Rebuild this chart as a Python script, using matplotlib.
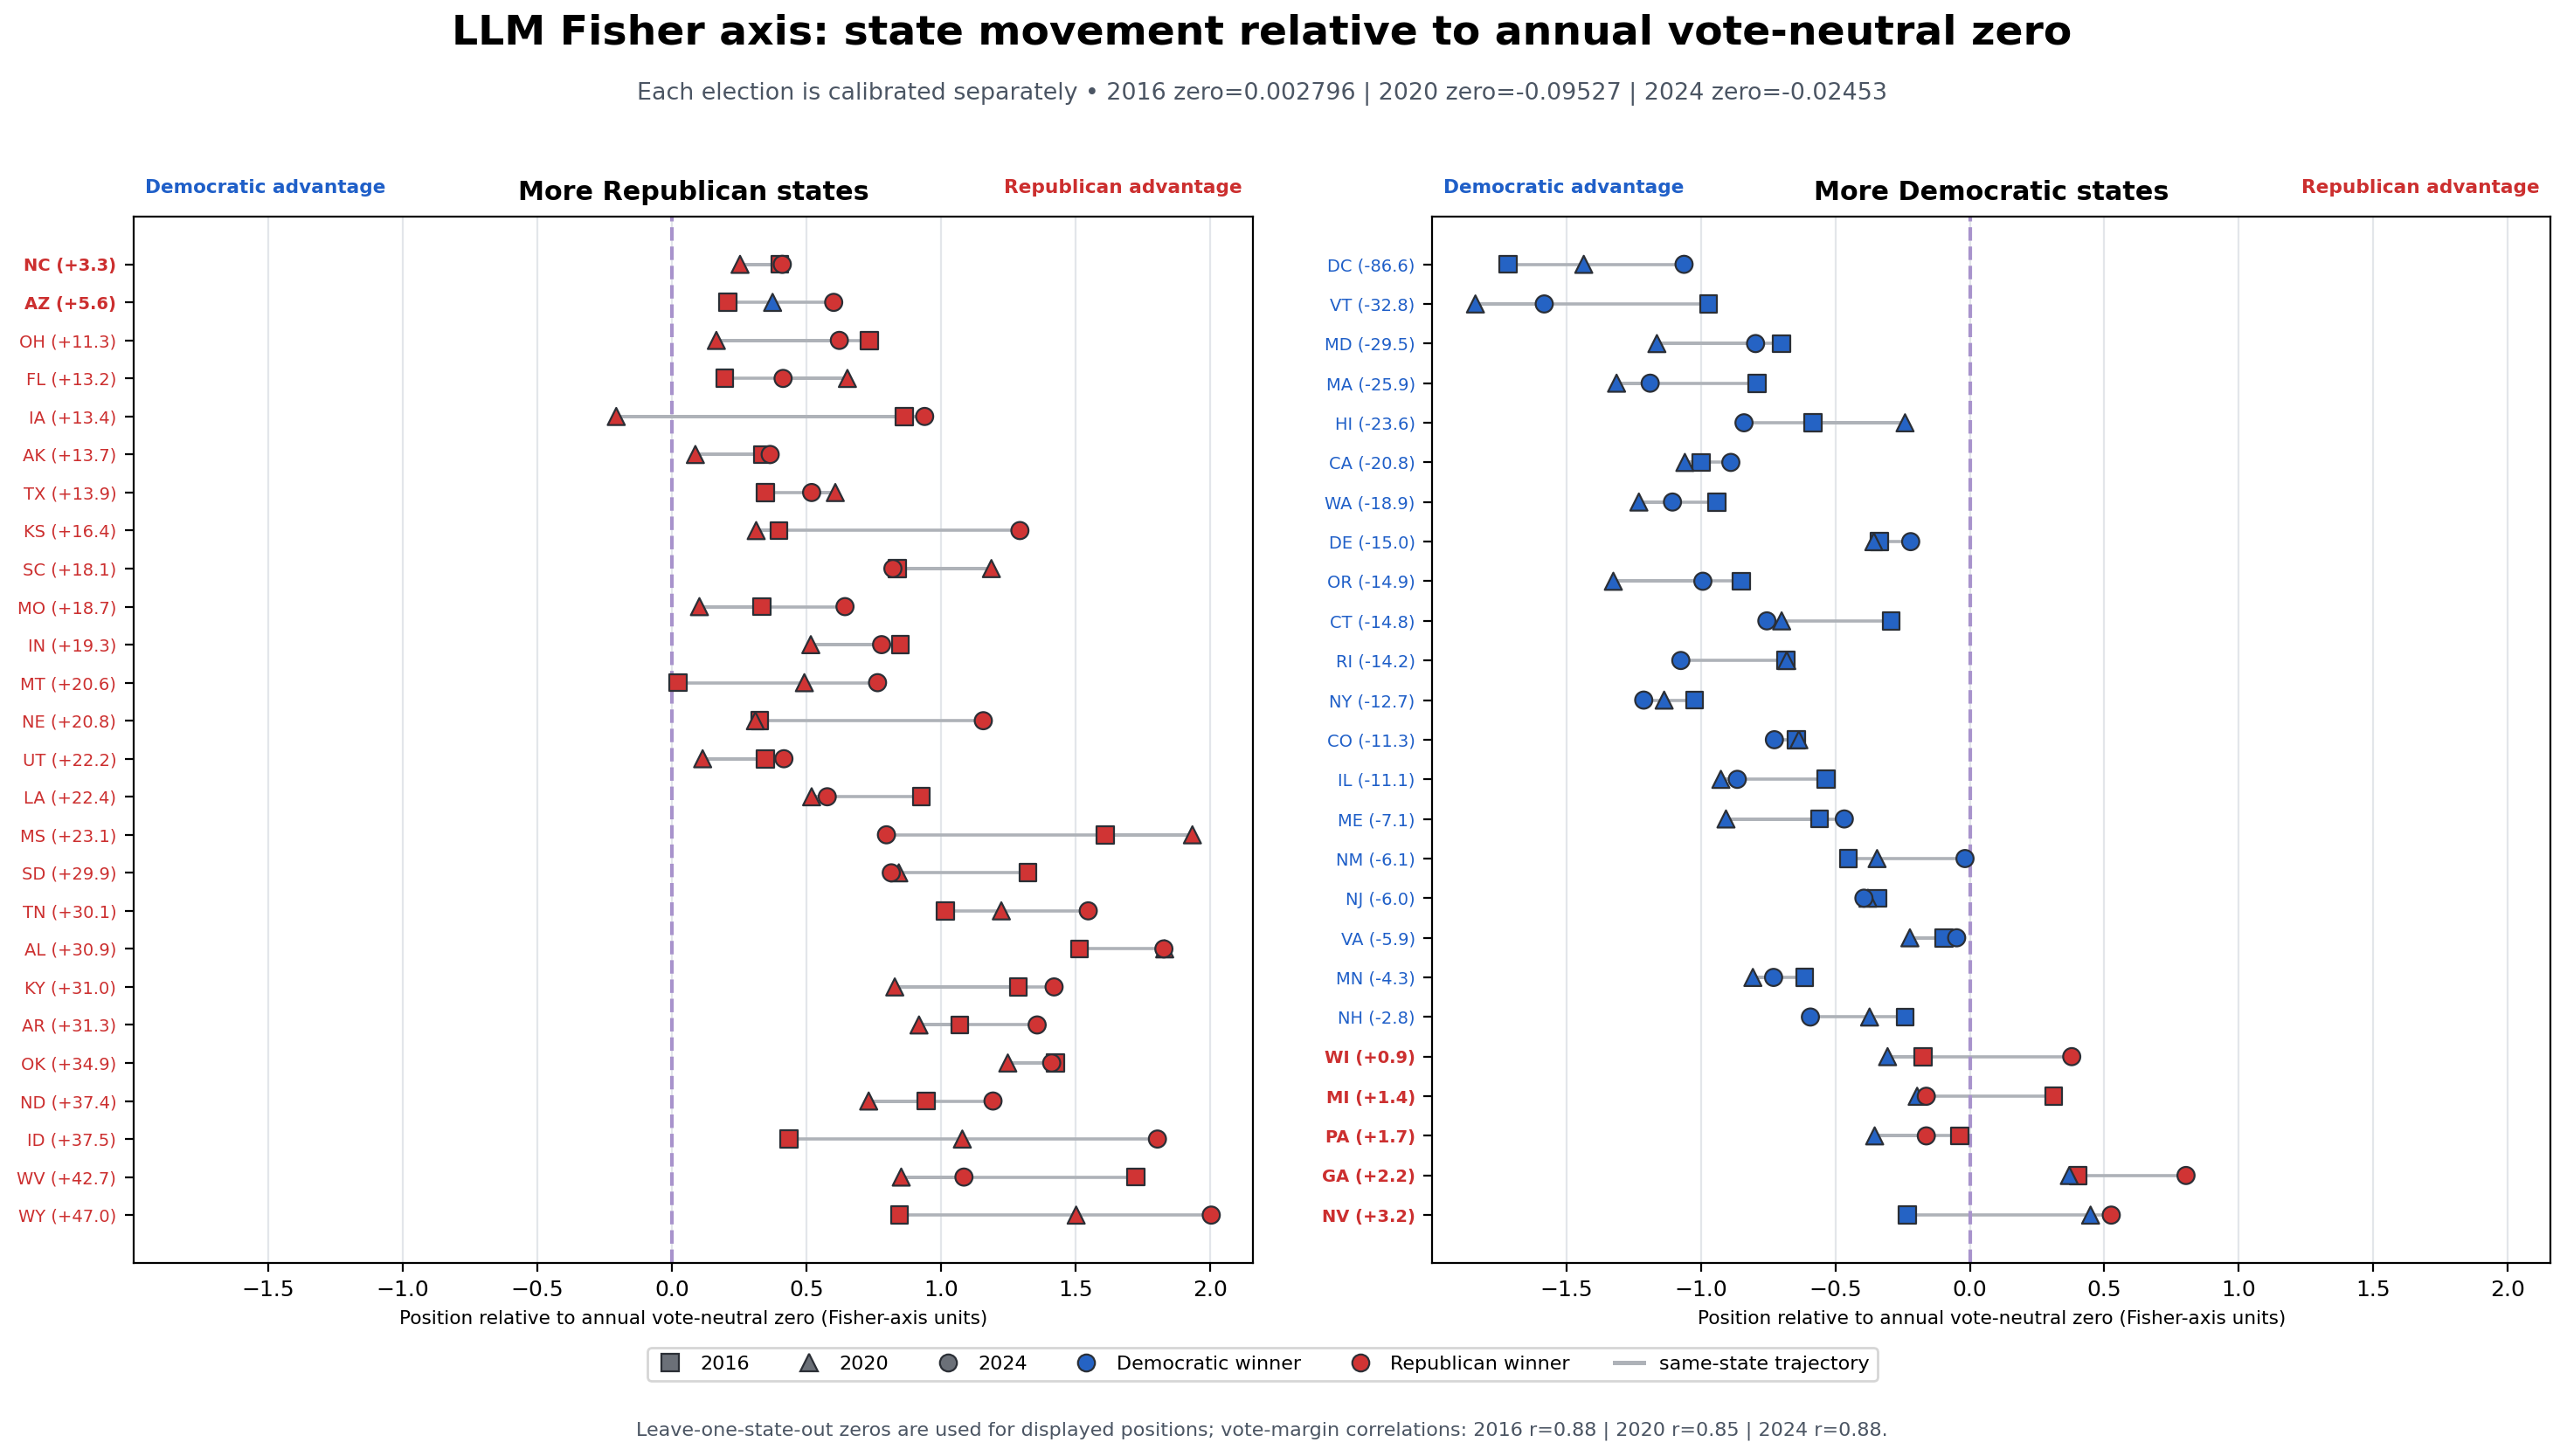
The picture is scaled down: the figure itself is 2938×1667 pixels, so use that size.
import numpy as np
import matplotlib
matplotlib.use('Agg')
import matplotlib.pyplot as plt
from matplotlib.lines import Line2D

# states sorted by 2024 margin (R minus D, points)
states = ['DC', 'VT', 'MD', 'MA', 'HI', 'CA', 'WA', 'DE', 'OR', 'CT', 'RI', 'NY', 'CO',
          'IL', 'ME', 'NM', 'NJ', 'VA', 'MN', 'NH', 'WI', 'MI', 'PA', 'GA', 'NV',
          'NC', 'AZ', 'OH', 'FL', 'IA', 'AK', 'TX', 'KS', 'SC', 'MO', 'IN', 'MT', 'NE',
          'UT', 'LA', 'MS', 'SD', 'TN', 'AL', 'KY', 'AR', 'OK', 'ND', 'ID', 'WV', 'WY']
margins = [-86.6, -32.8, -29.5, -25.9, -23.6, -20.8, -18.9, -15.0, -14.9, -14.8, -14.2,
           -12.7, -11.3, -11.1, -7.1, -6.1, -6.0, -5.9, -4.3, -2.8, 0.9, 1.4, 1.7, 2.2, 3.2,
           3.3, 5.6, 11.3, 13.2, 13.4, 13.7, 13.9, 16.4, 18.1, 18.7, 19.3, 20.6, 20.8,
           22.2, 22.4, 23.1, 29.9, 30.1, 30.9, 31.0, 31.3, 34.9, 37.4, 37.5, 42.7, 47.0]

pos_2016 = [-1.717, -0.972, -0.700, -0.791, -0.584, -0.999, -0.941, -0.336, -0.849, -0.293,
            -0.684, -1.024, -0.645, -0.535, -0.559, -0.452, -0.342, -0.095, -0.614, -0.241,
            -0.174, 0.312, -0.037, 0.403, -0.232,
            0.402, 0.209, 0.735, 0.197, 0.865, 0.339, 0.348, 0.399, 0.838, 0.336, 0.850,
            0.024, 0.327, 0.348, 0.928, 1.612, 1.324, 1.016, 1.515, 1.288, 1.070, 1.427,
            0.946, 0.435, 1.724, 0.847]
pos_2020 = [-1.436, -1.839, -1.164, -1.314, -0.241, -1.060, -1.231, -0.357, -1.326, -0.700,
            -0.681, -1.137, -0.636, -0.926, -0.907, -0.345, -0.379, -0.223, -0.807, -0.373,
            -0.306, -0.196, -0.354, 0.370, 0.449,
            0.254, 0.375, 0.166, 0.653, -0.206, 0.088, 0.608, 0.314, 1.188, 0.103, 0.517,
            0.493, 0.311, 0.115, 0.520, 1.935, 0.844, 1.225, 1.832, 0.829, 0.919, 1.249,
            0.732, 1.080, 0.853, 1.503]
pos_2024 = [-1.063, -1.583, -0.797, -1.189, -0.840, -0.889, -1.106, -0.220, -0.993, -0.755,
            -1.075, -1.213, -0.727, -0.865, -0.467, -0.018, -0.394, -0.049, -0.730, -0.593,
            0.379, -0.162, -0.162, 0.804, 0.526,
            0.411, 0.602, 0.623, 0.414, 0.940, 0.366, 0.520, 1.294, 0.822, 0.644, 0.780,
            0.765, 1.158, 0.417, 0.578, 0.798, 0.816, 1.548, 1.829, 1.421, 1.358, 1.412,
            1.194, 1.805, 1.086, 2.005]

# winners per election
win_2016 = ['D'] * 20 + ['R', 'R', 'R', 'R', 'D'] + ['R'] * 26
win_2020 = ['D'] * 25 + ['R', 'D'] + ['R'] * 24
win_2024 = ['D'] * 20 + ['R'] * 31

swing = ['AZ', 'GA', 'MI', 'NV', 'NC', 'PA', 'WI']
years = ['2016', '2020', '2024']
zeros = ['0.002796', '-0.09527', '-0.02453']
corrs = ['0.88', '0.85', '0.88']

BLUE = '#2563c4'
RED = '#d03434'
LBLUE = '#1f5fc8'
LRED = '#cc2f2f'
GRAY = '#6b7078'
EDGE = '#2b2f36'
LINE = '#aeb2b8'

fig = plt.figure(figsize=(14.69, 8.335), dpi=200)
ax_r = fig.add_axes([0.0520, 0.1328, 0.4361, 0.7183])
ax_d = fig.add_axes([0.5579, 0.1328, 0.4357, 0.7183])

n_dem = 25
panels = [(ax_r, list(range(n_dem, len(states))), 'More Republican states', 1.25),
          (ax_d, list(range(0, n_dem)), 'More Democratic states', 1.2)]
markers = ['s', '^', 'o']
pos_all = [pos_2016, pos_2020, pos_2024]
win_all = [win_2016, win_2020, win_2024]

for ax, idx, title, pad in panels:
    n = len(idx)
    for row, i in enumerate(idx):
        xs = [pos_2016[i], pos_2020[i], pos_2024[i]]
        ax.plot(xs, [row] * 3, color=LINE, lw=1.3, zorder=1, solid_capstyle='butt')
    for k in range(3):
        xs = [pos_all[k][i] for i in idx]
        cs = [BLUE if win_all[k][i] == 'D' else RED for i in idx]
        ax.scatter(xs, np.arange(n), marker=markers[k], s=50, c=cs,
                   edgecolors=EDGE, linewidths=0.8, zorder=3 + k)
    ax.axvline(0, color='#a893cc', lw=1.5, ls='--', zorder=2)
    ax.set_xlim(-2.0, 2.16)
    ax.set_xticks([-1.5, -1.0, -0.5, 0.0, 0.5, 1.0, 1.5, 2.0])
    ax.set_ylim(n - 1 + pad, -pad)
    ax.set_yticks(np.arange(n))
    labels = ['%s (%+.1f)' % (states[i], margins[i]) for i in idx]
    ax.set_yticklabels(labels)
    for lab, i in zip(ax.get_yticklabels(), idx):
        lab.set_color(LRED if margins[i] > 0 else LBLUE)
        if states[i] in swing:
            lab.set_fontweight('bold')
    ax.tick_params(axis='y', labelsize=7)
    ax.tick_params(axis='x', labelsize=9)
    ax.grid(axis='x', color='#e3e6ea', lw=0.8)
    ax.set_axisbelow(True)
    ax.set_title(title, fontsize=10.9, fontweight='bold', pad=7)
    ax.set_xlabel('Position relative to annual vote-neutral zero (Fisher-axis units)', fontsize=7.8)
    ax.text(0.01, 1.023, 'Democratic advantage', transform=ax.transAxes, color=LBLUE,
            fontsize=7.8, fontweight='bold', ha='left', va='baseline')
    ax.text(0.99, 1.023, 'Republican advantage', transform=ax.transAxes, color=LRED,
            fontsize=7.8, fontweight='bold', ha='right', va='baseline')

fig.text(0.4915, 0.977, 'LLM Fisher axis: state movement relative to annual vote-neutral zero',
         ha='center', va='center', fontsize=17, fontweight='bold')
sub = 'Each election is calibrated separately \u2022 ' + ' | '.join(
    '%s zero=%s' % (y, z) for y, z in zip(years, zeros))
fig.text(0.4915, 0.9355, sub, ha='center', va='center', fontsize=9.7, color='#4b5563')
foot = ('Leave-one-state-out zeros are used for displayed positions; vote-margin correlations: '
        + ' | '.join('%s r=%s' % (y, r) for y, r in zip(years, corrs)) + '.')
fig.text(0.4915, 0.0174, foot, ha='center', va='center', fontsize=8, color='#4b5563')

handles = [
    Line2D([], [], ls='none', marker='s', markersize=7, markerfacecolor=GRAY, markeredgecolor=EDGE, markeredgewidth=0.8, label='2016'),
    Line2D([], [], ls='none', marker='^', markersize=7, markerfacecolor=GRAY, markeredgecolor=EDGE, markeredgewidth=0.8, label='2020'),
    Line2D([], [], ls='none', marker='o', markersize=7, markerfacecolor=GRAY, markeredgecolor=EDGE, markeredgewidth=0.8, label='2024'),
    Line2D([], [], ls='none', marker='o', markersize=7, markerfacecolor=BLUE, markeredgecolor=EDGE, markeredgewidth=0.8, label='Democratic winner'),
    Line2D([], [], ls='none', marker='o', markersize=7, markerfacecolor=RED, markeredgecolor=EDGE, markeredgewidth=0.8, label='Republican winner'),
    Line2D([], [], color=LINE, lw=1.8, label='same-state trajectory'),
]
leg = fig.legend(handles=handles, loc='center', bbox_to_anchor=(0.4918, 0.063), ncol=6,
                 fontsize=8, frameon=True, handlelength=1.5, columnspacing=2.3)
leg.get_frame().set_edgecolor('#cccccc')

fig.savefig('out.png', dpi=200)
